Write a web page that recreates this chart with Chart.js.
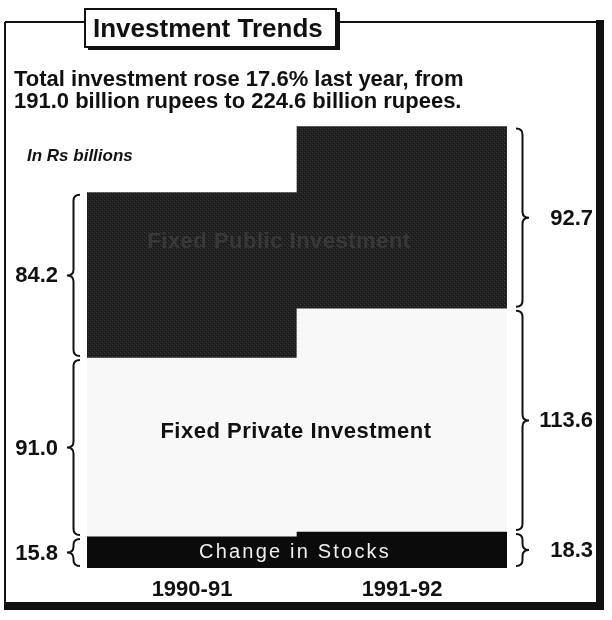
<!DOCTYPE html>
<html><head><meta charset="utf-8">
<script src="https://cdn.jsdelivr.net/npm/chart.js@4/dist/chart.umd.min.js"></script>
<style>html,body{margin:0;padding:0;background:#fff}#wrap{width:612px;height:620px;position:relative}</style>
</head><body><div id="wrap"><canvas id="c" width="612" height="620"></canvas></div>
<script>
const categories = ['1990-91', '1991-92'];
const changeInStocks = [15.8, 18.3];
const fixedPrivate = [91.0, 113.6];
const fixedPublic = [84.2, 92.7];
const seriesNames = ['Change in Stocks', 'Fixed Private Investment', 'Fixed Public Investment'];
const titleText = 'Investment Trends';
const subtitleLines = ['Total investment rose 17.6% last year, from', '191.0 billion rupees to 224.6 billion rupees.'];
const unitText = 'In Rs billions';
const FONT = '"Liberation Sans", Arial, sans-serif';

const canvas = document.getElementById('c');
const ctx = canvas.getContext('2d');

function makePattern() {
  const p = document.createElement('canvas');
  p.width = 4; p.height = 4;
  const g = p.getContext('2d');
  g.fillStyle = '#212121'; g.fillRect(0, 0, 4, 4);
  g.fillStyle = '#3c3c3c'; g.fillRect(0, 0, 1, 1); g.fillRect(2, 2, 1, 1);
  g.fillStyle = '#141414'; g.fillRect(1, 3, 1, 1); g.fillRect(3, 1, 1, 1);
  return ctx.createPattern(p, 'repeat');
}

function brace(g, x0, y1, y2, dir, w) {
  const xs = x0 + dir * w * 0.5, xt = x0 + dir * w, ym = (y1 + y2) / 2;
  const r = Math.min(6, (y2 - y1) / 4);
  g.beginPath();
  g.moveTo(x0, y1);
  g.quadraticCurveTo(xs, y1, xs, y1 + r);
  g.lineTo(xs, ym - r);
  g.quadraticCurveTo(xs, ym, xt, ym);
  g.quadraticCurveTo(xs, ym, xs, ym + r);
  g.lineTo(xs, y2 - r);
  g.quadraticCurveTo(xs, y2, x0, y2);
  g.stroke();
}

const deco = {
  id: 'deco',
  beforeDraw(chart) {
    const g = chart.ctx;
    g.save();
    g.fillStyle = '#ffffff';
    g.fillRect(0, 0, 612, 620);
    g.strokeStyle = '#111';
    g.lineWidth = 2;
    g.beginPath();
    g.moveTo(5, 22); g.lineTo(600, 22);
    g.moveTo(5, 22); g.lineTo(5, 606);
    g.stroke();
    g.fillStyle = '#111';
    g.fillRect(596, 20, 8, 590);
    g.fillRect(4, 602, 600, 8);
    g.restore();
  },
  afterDatasetsDraw(chart) {
    const g = chart.ctx;
    const y = chart.scales.y;
    const ca = chart.chartArea;
    const leftX = ca.left, rightX = ca.right;
    g.save();
    const stackB = [0, 1].map(i => [
      y.getPixelForValue(0),
      y.getPixelForValue(changeInStocks[i]),
      y.getPixelForValue(changeInStocks[i] + fixedPrivate[i]),
      y.getPixelForValue(changeInStocks[i] + fixedPrivate[i] + fixedPublic[i])
    ]);
    const midX = (leftX + rightX) / 2;
    g.textAlign = 'center'; g.textBaseline = 'middle';
    // Change in Stocks
    g.font = '20px ' + FONT;
    g.letterSpacing = '2.2px';
    g.fillStyle = '#f0f0f0';
    const sy = (stackB[0][0] + stackB[0][1] + stackB[1][0] + stackB[1][1]) / 4;
    g.fillText(seriesNames[0], midX - 2, sy + 1);
    // Fixed Private
    g.font = 'bold 22px ' + FONT;
    g.letterSpacing = '0.5px';
    g.fillStyle = '#111';
    const py = (stackB[0][1] + stackB[0][2] + stackB[1][1] + stackB[1][2]) / 4;
    g.fillText(seriesNames[1], midX - 1, py - 2);
    // Fixed Public
    g.fillStyle = '#383838';
    const uy = (stackB[0][2] + stackB[0][3] + stackB[1][2] + stackB[1][3]) / 4;
    g.fillText(seriesNames[2], midX - 18, uy - 5);
    g.letterSpacing = '0px';

    // braces and values
    g.strokeStyle = '#111'; g.lineWidth = 2;
    g.font = 'bold 22px ' + FONT;
    g.fillStyle = '#111';
    const vals = [changeInStocks, fixedPrivate, fixedPublic];
    for (let s = 0; s < 3; s++) {
      const lb = stackB[0][s], lt = stackB[0][s + 1];
      const rb = stackB[1][s], rt = stackB[1][s + 1];
      brace(g, leftX - 7, lt + 2, lb - 2, -1, 13);
      brace(g, rightX + 9, rt + 2, rb - 2, 1, 13);
      g.textAlign = 'right';
      g.fillText(vals[s][0].toFixed(1), leftX - 29, (lt + lb) / 2 + 1);
      g.fillText(vals[s][1].toFixed(1), rightX + 86, (rt + rb) / 2 + 1);
    }
    g.restore();
  },
  afterDraw(chart) {
    const g = chart.ctx;
    g.save();
    // title box with shadow
    g.fillStyle = '#111';
    g.fillRect(88, 12, 252, 38);
    g.fillStyle = '#fff';
    g.fillRect(85, 9, 251, 38);
    g.strokeStyle = '#111'; g.lineWidth = 2;
    g.strokeRect(85, 9, 251, 38);
    g.fillStyle = '#111';
    g.font = 'bold 26px ' + FONT;
    g.textAlign = 'left'; g.textBaseline = 'alphabetic';
    g.fillText(titleText, 93, 37);
    // subtitle
    g.font = 'bold 22px ' + FONT;
    g.fillText(subtitleLines[0], 14, 86);
    g.fillText(subtitleLines[1], 14, 108);
    g.font = 'italic bold 17px ' + FONT;
    g.fillText(unitText, 27, 161);
    g.restore();
  }
};

new Chart(canvas, {
  type: 'bar',
  data: {
    labels: categories,
    datasets: [
      { label: seriesNames[0], data: changeInStocks, backgroundColor: '#0b0b0b', borderWidth: 0 },
      { label: seriesNames[1], data: fixedPrivate, backgroundColor: '#f8f8f8', borderWidth: 0 },
      { label: seriesNames[2], data: fixedPublic, backgroundColor: makePattern(), borderWidth: 0 }
    ]
  },
  options: {
    responsive: false,
    animation: false,
    devicePixelRatio: 1,
    layout: { padding: { left: 87, right: 105, top: 116, bottom: 12 } },
    plugins: { legend: { display: false }, tooltip: { enabled: false } },
    datasets: { bar: { barPercentage: 1, categoryPercentage: 1 } },
    scales: {
      x: {
        stacked: true,
        grid: { display: false, drawTicks: false },
        border: { display: false },
        ticks: { font: { family: FONT, weight: 'bold', size: 22 }, color: '#111', padding: 9 },
        afterFit(s) { s.height = 40; }
      },
      y: { stacked: true, display: false, min: 0, max: 230 }
    }
  },
  plugins: [deco]
});
</script>
</body></html>
